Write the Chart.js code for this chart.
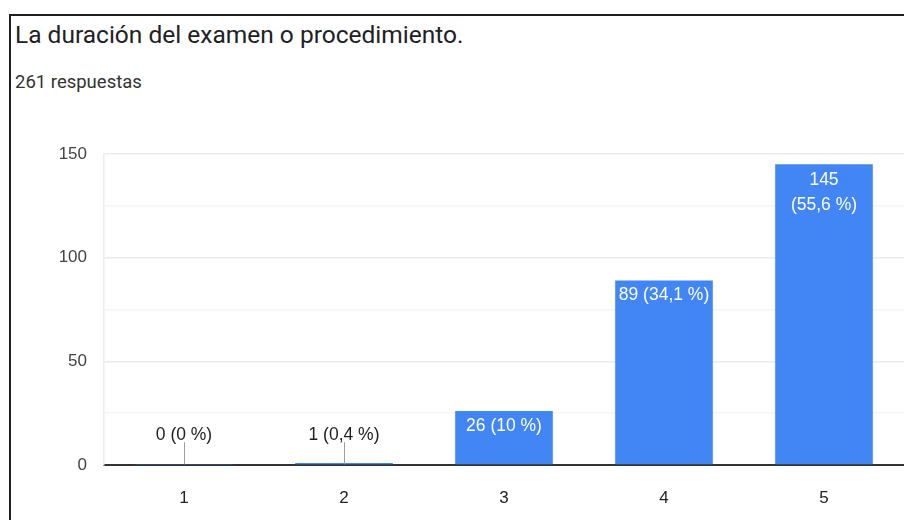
<!DOCTYPE html>
<html>
<head>
<meta charset="utf-8">
<script src="https://cdn.jsdelivr.net/npm/chart.js@4/dist/chart.umd.min.js"></script>
<style>
  html, body { margin: 0; padding: 0; background: #fff; overflow: hidden; }
  #wrap { position: relative; width: 904px; height: 520px; }
  #frame { position: absolute; left: 9px; top: 14px; width: 1000px; height: 600px;
           border-left: 2px solid #1e1e1e; border-top: 2px solid #1e1e1e; }
  #title { position: absolute; left: 15px; top: 20px; font: 24.5px Roboto, sans-serif; color: #202124; }
  #sub { position: absolute; left: 15px; top: 71px; font: 18.5px Roboto, sans-serif; color: #333; }
  canvas { position: absolute; left: 0; top: 0; }
</style>
</head>
<body>
<div id="wrap">
  <div id="frame"></div>
  <div id="title">La duración del examen o procedimiento.</div>
  <div id="sub">261 respuestas</div>
  <canvas id="chart" width="904" height="520"></canvas>
</div>
<script>
var categories = ['1', '2', '3', '4', '5'];
var counts = [0, 1, 26, 89, 145];
var percents = [0, 0.4, 10, 34.1, 55.6];
var yTicks = [0, 50, 100, 150];

function fmtPct(p) {
    return String(p).replace('.', ',') + ' %';
}

var barLabels = {
    id: 'barLabels',
    afterDatasetsDraw: function(chart) {
        var ctx = chart.ctx;
        var meta = chart.getDatasetMeta(0);
        ctx.save();
        ctx.font = '17.5px "Liberation Sans", Arial, sans-serif';
        ctx.textAlign = 'center';
        ctx.textBaseline = 'middle';
        meta.data.forEach(function(bar, i) {
            var txt = counts[i] + ' (' + fmtPct(percents[i]) + ')';
            var w = bar.width;
            var h = bar.base - bar.y;
            if (h > 24) {
                ctx.fillStyle = '#ffffff';
                if (ctx.measureText(txt).width > w - 4) {
                    ctx.fillText(String(counts[i]), bar.x, bar.y + 16);
                    ctx.fillText('(' + fmtPct(percents[i]) + ')', bar.x, bar.y + 41);
                } else {
                    ctx.fillText(txt, bar.x, bar.y + 15);
                }
            } else {
                ctx.strokeStyle = '#9e9e9e';
                ctx.lineWidth = 1;
                ctx.beginPath();
                ctx.moveTo(Math.round(bar.x) + 0.5, bar.base);
                ctx.lineTo(Math.round(bar.x) + 0.5, bar.base - 22);
                ctx.stroke();
                ctx.fillStyle = '#222222';
                ctx.fillText(txt, bar.x, bar.base - 29);
            }
        });
        ctx.restore();
    }
};

var ctx = document.getElementById('chart').getContext('2d');

new Chart(ctx, {
    type: 'bar',
    data: {
        labels: categories,
        datasets: [{
            data: counts,
            backgroundColor: '#4285f4',
            borderWidth: 0,
            minBarLength: 1,
            barPercentage: 0.61,
            categoryPercentage: 1
        }]
    },
    options: {
        responsive: false,
        animation: false,
        devicePixelRatio: 1,
        layout: { padding: { top: 154, left: 0, right: 0, bottom: 0 } },
        plugins: {
            legend: { display: false },
            tooltip: { enabled: false }
        },
        scales: {
            x: {
                z: 1,
                grid: { display: false },
                border: { display: true, color: '#333333', width: 2 },
                ticks: {
                    color: '#222222',
                    padding: 15,
                    font: { family: '"Liberation Sans", Arial, sans-serif', size: 17 }
                },
                afterFit: function(scale) { scale.height = 55; }
            },
            y: {
                min: 0,
                max: 150,
                grid: {
                    drawTicks: false,
                    color: function(c) {
                        var v = c.tick.value;
                        if (v === 0) return 'rgba(0,0,0,0)';
                        return yTicks.indexOf(v) >= 0 ? '#ebebeb' : '#f4f4f4';
                    },
                    lineWidth: 1.5
                },
                border: { display: true, color: '#ececec', width: 1.5 },
                ticks: {
                    stepSize: 25,
                    padding: 17,
                    color: '#444444',
                    font: { family: '"Liberation Sans", Arial, sans-serif', size: 17 },
                    callback: function(v) { return yTicks.indexOf(v) >= 0 ? String(v) : ''; }
                },
                afterFit: function(scale) { scale.width = 104; }
            }
        }
    },
    plugins: [barLabels]
});
</script>
</body>
</html>
